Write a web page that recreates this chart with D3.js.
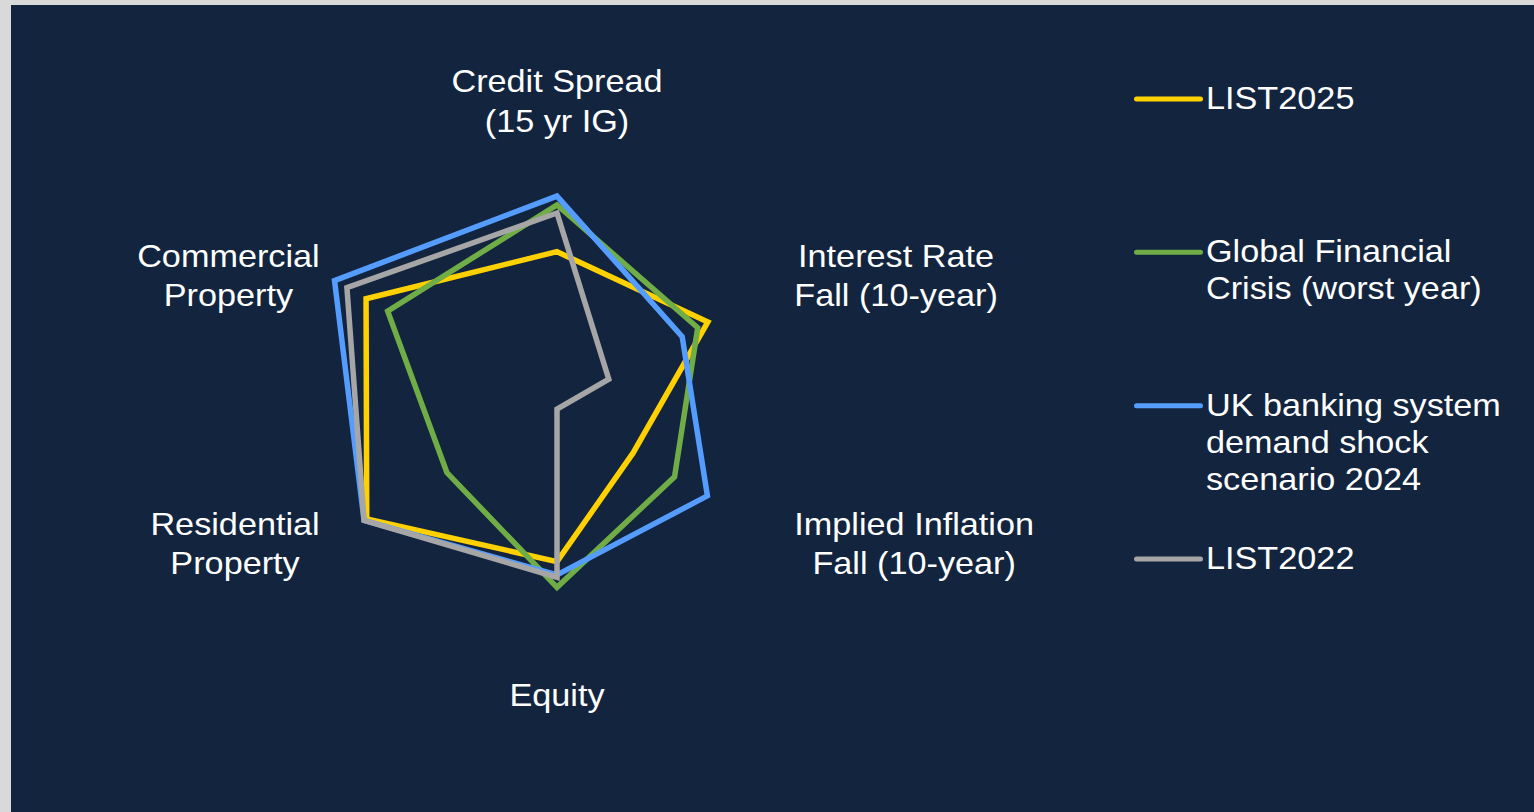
<!DOCTYPE html>
<html>
<head>
<meta charset="utf-8">
<script src="https://cdn.jsdelivr.net/npm/d3@7"></script>
<style>
  html, body { margin: 0; padding: 0; background: #d9d9d9; overflow: hidden; }
  svg { display: block; }
</style>
</head>
<body>
<div id="chart"></div>
<script>
// axes run clockwise from the top
const axisLabels = [
  ['Credit Spread', '(15 yr IG)'],
  ['Interest Rate', 'Fall (10-year)'],
  ['Implied Inflation', 'Fall (10-year)'],
  ['Equity'],
  ['Residential', 'Property'],
  ['Commercial', 'Property']
];

const seriesNames = [
  ['LIST2025'],
  ['Global Financial', 'Crisis (worst year)'],
  ['UK banking system', 'demand shock', 'scenario 2024'],
  ['LIST2022']
];
const seriesColors = ['#ffd100', '#70ad47', '#559cff', '#a6a6a6'];

// relative severity per axis (0-100)
const list2025 = [60.5, 67, 33.8, 58.7, 84.5, 84.8];
const gfcWorstYear = [78.5, 62.5, 52.2, 68.6, 48.9, 75.2];
const ukDemandShock = [81.9, 55.6, 66.8, 63.8, 85.7, 98.8];
const list2022 = [75.4, 23, 0, 64.7, 85.7, 93.3];
const seriesValues = [list2025, gfcWorstYear, ukDemandShock, list2022];

const width = 1534, height = 812;
const cx = 557, cy = 409;
const fontSize = 32, stretch = 1.07, capH = 23;

let svg = d3.select('#chart').append('svg')
  .attr('width', width)
  .attr('height', height);

svg.append('rect')
  .attr('x', 11)
  .attr('y', 5)
  .attr('width', width - 11)
  .attr('height', height - 5)
  .attr('fill', '#13253e');

function addText(parent, x, y, str, anchor) {
  return parent.append('text')
    .attr('transform', `translate(${x},${y}) scale(${stretch},1)`)
    .attr('text-anchor', anchor)
    .attr('fill', '#ffffff')
    .attr('font-family', '"Liberation Sans", Arial, sans-serif')
    .attr('font-size', fontSize)
    .text(str);
}

let angle = d3.scaleLinear().domain([0, axisLabels.length]).range([0, 2 * Math.PI]);
let r = d3.scaleLinear().domain([0, 100]).range([0, 260]);

let g = svg.append('g').attr('transform', `translate(${cx},${cy})`);

let line = d3.lineRadial()
  .angle((d, i) => angle(i))
  .radius(d => r(d))
  .curve(d3.curveLinearClosed);

seriesValues.forEach((vals, k) => {
  g.append('path')
    .datum(vals)
    .attr('fill', 'none')
    .attr('stroke', seriesColors[k])
    .attr('stroke-width', 5.5)
    .attr('stroke-linejoin', 'miter')
    .attr('d', line);
});

// category labels
const labelGap = 274, lineStep = 39;
axisLabels.forEach((lines, i) => {
  let a = angle(i);
  let dx = Math.sin(a), dy = -Math.cos(a);
  let side = Math.abs(dx) > 0.01;
  let px = labelGap * dx;
  let py = side ? labelGap * dy * 0.975 : labelGap * dy;
  let lg = g.append('g');
  let texts = lines.map(s => addText(lg, 0, 0, s, 'middle'));
  let w = d3.max(texts, t => t.node().getComputedTextLength()) * stretch;
  let bx = side ? px + Math.sign(dx) * w / 2 : px;
  let step = lineStep;
  let firstBase;
  if (side) firstBase = py - (lines.length - 1) * step / 2 + capH / 2;
  else if (dy < 0) { step = 40; firstBase = py - 3 - (lines.length - 1) * step; }
  else firstBase = py + capH;
  texts.forEach((t, j) => t.attr('transform', `translate(${bx},${firstBase + j * step}) scale(${stretch},1)`));
});

// legend
let legendY = d3.scaleLinear().domain([0, seriesNames.length - 1]).range([99, 559]);
let legend = svg.append('g').attr('transform', 'translate(1134,0)');
seriesNames.forEach((lines, k) => {
  let y = legendY(k);
  legend.append('line')
    .attr('x1', 2.5)
    .attr('x2', 66.5)
    .attr('y1', y)
    .attr('y2', y)
    .attr('stroke', seriesColors[k])
    .attr('stroke-width', 5)
    .attr('stroke-linecap', 'round');
  lines.forEach((s, j) => addText(legend, 72, y + 10 + j * 37, s, 'start'));
});
</script>
</body>
</html>
